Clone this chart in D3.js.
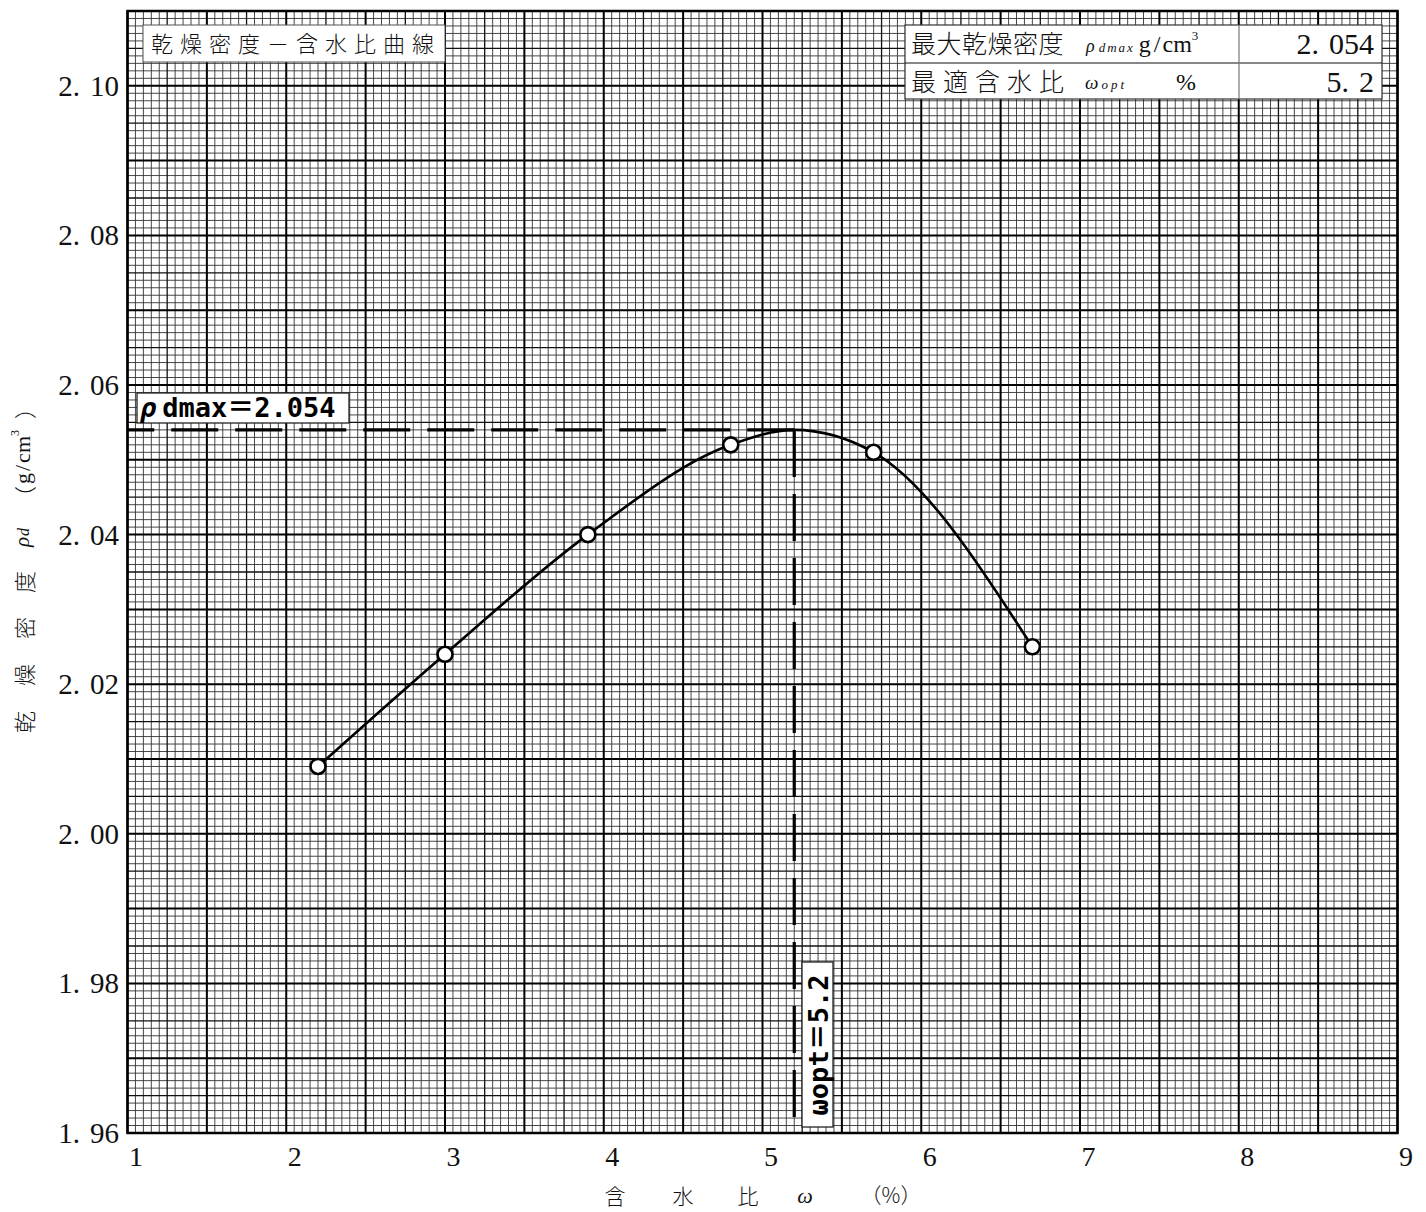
<!DOCTYPE html>
<html>
<head>
<meta charset="utf-8">
<script src="https://cdn.jsdelivr.net/npm/d3@7/dist/d3.min.js"></script>
<style>
  html, body { margin: 0; padding: 0; background: #fff; }
  svg { display: block; }
  .cjk { font-family: "Noto Sans CJK JP", "Noto Sans", sans-serif; font-weight: 300; }
  .serif { font-family: "Liberation Serif", "DejaVu Serif", serif; }
  .mono { font-family: "DejaVu Sans Mono", "Noto Sans CJK JP", monospace; font-weight: bold; }
</style>
</head>
<body>
<script>
// ---- data ----
const moisture = [2.2, 3.0, 3.9, 4.8, 5.7, 6.7];          // 含水比 ω (%)
const density  = [2.009, 2.024, 2.040, 2.052, 2.051, 2.025]; // 乾燥密度 ρd (g/cm3)
const optMoisture = 5.2;      // ωopt
const maxDensity  = 2.054;    // ρdmax
const xTicks = [1, 2, 3, 4, 5, 6, 7, 8, 9];
const yTicks = [1.96, 1.98, 2.00, 2.02, 2.04, 2.06, 2.08, 2.10];
const yTickLabels = ["1.96", "1.98", "2.00", "2.02", "2.04", "2.06", "2.08", "2.10"];
const titleText = "乾燥密度－含水比曲線";
const tableRow1Label = "最大乾燥密度";
const tableRow2Label = "最適含水比";
const tableRow1Value = "2.054";
const tableRow2Value = "5.2";

const W = 1426, H = 1212;
const svg = d3.select("body").append("svg").attr("width", W).attr("height", H);

const x = d3.scaleLinear().domain([1, 9]).range([127.5, 1397.5]);
const y = d3.scaleLinear().domain([1.96, 2.11]).range([1133, 11]);
const [x0, x1] = x.range();
const [yB, yT] = y.range();

// ---- graph paper grid ----
const grid = svg.append("g");
const fineX = d3.range(0, 161).map(i => 1 + i * 0.05);
const fineY = d3.range(0, 151).map(i => 1.96 + i * 0.001);
function level(i, medium, major) { return i % major === 0 ? 2 : (i % medium === 0 ? 1 : 0); }
const styles = [
  { stroke: "#333", w: 0.9 },
  { stroke: "#111", w: 1.3 },
  { stroke: "#000", w: 2.0 }
];
[0, 1, 2].forEach(lv => {
  grid.selectAll(null).data(fineX.filter((d, i) => level(i, 5, 10) === lv)).enter().append("line")
    .attr("x1", d => x(d)).attr("x2", d => x(d)).attr("y1", yT).attr("y2", yB)
    .attr("stroke", styles[lv].stroke).attr("stroke-width", styles[lv].w);
  grid.selectAll(null).data(fineY.filter((d, i) => level(i, 5, 10) === lv)).enter().append("line")
    .attr("y1", d => y(d)).attr("y2", d => y(d)).attr("x1", x0).attr("x2", x1)
    .attr("stroke", styles[lv].stroke).attr("stroke-width", styles[lv].w);
});
svg.append("rect").attr("x", x0).attr("y", yT).attr("width", x1 - x0).attr("height", yB - yT)
  .attr("fill", "none").attr("stroke", "#000").attr("stroke-width", 2.5);

// ---- axes tick labels ----
svg.append("g").selectAll("text").data(xTicks).enter().append("text")
  .attr("class", "serif").attr("x", d => x(d) + 8.5).attr("y", 1166)
  .attr("text-anchor", "middle").attr("font-size", 28).attr("fill", "#111")
  .text(d => d);

const yl = svg.append("g").selectAll("text").data(yTicks).enter().append("text")
  .attr("class", "serif").attr("x", 119).attr("y", d => y(d) + 10)
  .attr("text-anchor", "end").attr("font-size", 29).attr("fill", "#111");
yl.each(function(d, i) {
  const parts = yTickLabels[i].split(".");
  const t = d3.select(this);
  t.append("tspan").text(parts[0] + ".");
  t.append("tspan").attr("dx", 10).text(parts[1]);
});

// ---- axis titles ----
const xlab = svg.append("g").attr("fill", "#111");
[["含", 615], ["水", 683], ["比", 748]].forEach(([c, cx]) => {
  xlab.append("text").attr("class", "cjk").attr("x", cx).attr("y", 1204)
    .attr("text-anchor", "middle").attr("font-size", 21).text(c);
});
xlab.append("text").attr("class", "serif").attr("x", 805).attr("y", 1203)
  .attr("text-anchor", "middle").attr("font-size", 22).attr("font-style", "italic").text("ω");
xlab.append("text").attr("class", "cjk").attr("x", 891).attr("y", 1203)
  .attr("text-anchor", "middle").attr("font-size", 21).text("（%）");

const ylab = svg.append("g").attr("transform", "translate(23,0) rotate(-90)").attr("fill", "#111");
[["乾", 722], ["燥", 675], ["密", 628], ["度", 582]].forEach(([c, cy]) => {
  ylab.append("text").attr("class", "cjk").attr("x", -cy).attr("y", 0)
    .attr("text-anchor", "middle").attr("dominant-baseline", "central").attr("font-size", 22).text(c);
});
const rd = ylab.append("text").attr("class", "serif").attr("x", -547).attr("y", 6)
  .attr("font-size", 21).attr("font-style", "italic");
rd.append("tspan").text("ρ");
rd.append("tspan").attr("font-size", 16).attr("dx", 1).text("d");
ylab.append("text").attr("class", "cjk").attr("x", -497).attr("y", 0)
  .attr("text-anchor", "middle").attr("dominant-baseline", "central").attr("font-size", 22).text("（");
const unit = ylab.append("text").attr("class", "serif").attr("x", -484).attr("y", 7).attr("font-size", 22);
unit.append("tspan").text("g");
unit.append("tspan").attr("dx", 2).text("/");
unit.append("tspan").attr("dx", 2).text("cm");
unit.append("tspan").attr("font-size", 12).attr("dy", -11).text("3");
ylab.append("text").attr("class", "cjk").attr("x", -408).attr("y", 0)
  .attr("text-anchor", "middle").attr("dominant-baseline", "central").attr("font-size", 22).text("）");

// ---- title box ----
svg.append("rect").attr("x", 143).attr("y", 25).attr("width", 302).attr("height", 37)
  .attr("fill", "#fff").attr("stroke", "#555").attr("stroke-width", 1);
svg.append("text").attr("class", "cjk").attr("x", 151).attr("y", 52)
  .attr("font-size", 22).attr("letter-spacing", 7).attr("fill", "#111").text(titleText);

// ---- result table ----
const tb = svg.append("g");
tb.append("rect").attr("x", 905).attr("y", 25).attr("width", 477).attr("height", 74)
  .attr("fill", "#fff").attr("stroke", "#333").attr("stroke-width", 1.2);
tb.append("line").attr("x1", 905).attr("x2", 1382).attr("y1", 63).attr("y2", 63)
  .attr("stroke", "#111").attr("stroke-width", 1.2);
tb.append("line").attr("x1", 1239).attr("x2", 1239).attr("y1", 25).attr("y2", 99)
  .attr("stroke", "#777").attr("stroke-width", 1.2);
tb.append("text").attr("class", "cjk").attr("x", 911).attr("y", 53)
  .attr("font-size", 25).attr("letter-spacing", 0.5).attr("fill", "#111").text(tableRow1Label);
tb.append("text").attr("class", "cjk").attr("x", 911).attr("y", 91)
  .attr("font-size", 25).attr("letter-spacing", 7).attr("fill", "#111").text(tableRow2Label);
const r1 = tb.append("text").attr("class", "serif").attr("x", 1086).attr("y", 52).attr("fill", "#111");
r1.append("tspan").attr("font-style", "italic").attr("font-size", 18).text("ρ");
r1.append("tspan").attr("font-style", "italic").attr("font-size", 13).attr("dx", 4).attr("letter-spacing", 2).text("dmax");
r1.append("tspan").attr("font-size", 24).attr("dx", 4).text("g");
r1.append("tspan").attr("font-size", 24).attr("dx", 3).text("/");
r1.append("tspan").attr("font-size", 24).attr("dx", 2).text("cm");
r1.append("tspan").attr("font-size", 13).attr("dy", -12).text("3");
const r2 = tb.append("text").attr("class", "serif").attr("x", 1085).attr("y", 89).attr("fill", "#111");
r2.append("tspan").attr("font-style", "italic").attr("font-size", 19).text("ω");
r2.append("tspan").attr("font-style", "italic").attr("font-size", 13).attr("dx", 3).attr("letter-spacing", 3).text("opt");
tb.append("text").attr("class", "serif").attr("x", 1186).attr("y", 90).attr("text-anchor", "middle")
  .attr("font-size", 24).attr("fill", "#111").text("%");
[[tableRow1Value, 54], [tableRow2Value, 92]].forEach(([v, by]) => {
  const parts = v.split(".");
  const t = tb.append("text").attr("class", "serif").attr("x", 1374).attr("y", by)
    .attr("text-anchor", "end").attr("font-size", 30).attr("fill", "#111");
  t.append("tspan").text(parts[0] + ".");
  t.append("tspan").attr("dx", 10).text(parts[1]);
});

// ---- compaction curve ----
const curvePts = moisture.map((m, i) => [m, density[i]]).concat([[optMoisture, maxDensity]])
  .sort((a, b) => a[0] - b[0]);
const line = d3.line().x(d => x(d[0])).y(d => y(d[1])).curve(d3.curveMonotoneX);
svg.append("path").datum(curvePts).attr("d", line)
  .attr("fill", "none").attr("stroke", "#000").attr("stroke-width", 2.6);

// dashed guide lines, dash pattern starting at the peak
svg.append("path")
  .attr("d", `M${x(optMoisture)},${y(maxDensity)}H${x0}`)
  .attr("stroke", "#000").attr("stroke-width", 3.2).attr("stroke-dasharray", "47,17").attr("fill", "none");
svg.append("path")
  .attr("d", `M${x(optMoisture)},${y(maxDensity)}V${yB}`)
  .attr("stroke", "#000").attr("stroke-width", 3.2).attr("stroke-dasharray", "47,17").attr("fill", "none");

// points
svg.append("g").selectAll("circle").data(moisture).enter().append("circle")
  .attr("cx", d => x(d)).attr("cy", (d, i) => y(density[i])).attr("r", 7.5)
  .attr("fill", "#fff").attr("stroke", "#000").attr("stroke-width", 2.6);

// annotation labels
svg.append("rect").attr("x", 137).attr("y", 393).attr("width", 212).attr("height", 30)
  .attr("fill", "#fff").attr("stroke", "#222").attr("stroke-width", 1.3);
const a1 = svg.append("text").attr("class", "mono").attr("x", 140).attr("y", 417)
  .attr("font-size", 27).attr("fill", "#000");
a1.append("tspan").attr("font-style", "italic").text("ρ");
a1.append("tspan").attr("dx", 6).text("dmax＝" + maxDensity.toFixed(3));

svg.append("rect").attr("x", 802).attr("y", 962).attr("width", 31).attr("height", 165)
  .attr("fill", "#fff").attr("stroke", "#222").attr("stroke-width", 1.3);
svg.append("text").attr("class", "mono")
  .attr("transform", "translate(818,1045) rotate(-90)")
  .attr("text-anchor", "middle").attr("dominant-baseline", "central")
  .attr("font-size", 27).attr("fill", "#000")
  .text("ωopt＝" + optMoisture.toFixed(1));
</script>
</body>
</html>
